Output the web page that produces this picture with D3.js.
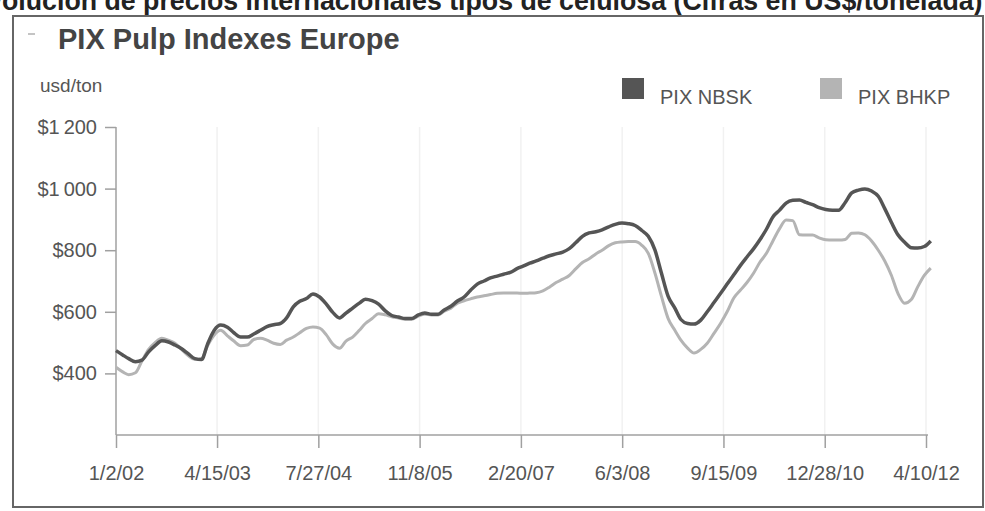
<!DOCTYPE html>
<html>
<head>
<meta charset="utf-8">
<script src="https://cdn.jsdelivr.net/npm/d3@7"></script>
<style>
  body { margin: 0; background: #fff; }
  svg { display: block; font-family: "Liberation Sans", Arial, sans-serif; }
</style>
</head>
<body>
<script>
// Monthly samples, first one on the first axis date
const firstDate = new Date(2002, 0, 2);

const nbskValues = [
  474, 460, 448, 438, 443, 470, 490, 506, 502, 492,
  480, 464, 448, 445, 495, 540, 557, 550, 532, 518,
  518, 528, 540, 552, 558, 562, 580, 616, 634, 643,
  658, 648, 625, 598, 580, 596, 612, 628, 641, 636,
  625, 603, 588, 583, 578, 578, 590, 596, 592, 592,
  606, 618, 635, 648, 670, 690, 700, 710, 716, 722,
  728, 740, 748, 758, 765, 774, 782, 788, 794, 805,
  825, 845, 856, 860, 866, 876, 884, 888, 886, 880,
  864, 845, 800, 725, 650, 612, 575, 562, 560, 573,
  600, 630, 660, 690, 720, 750, 778, 805, 833, 868,
  908, 930, 953, 962, 963, 955, 948, 938, 932, 930,
  930, 955, 986, 995, 999, 992, 975, 935, 890, 850,
  826, 808, 807, 812, 830
];

const bhkpValues = [
  420, 405, 396, 402, 440, 478, 500, 514, 508, 498,
  478, 458, 446, 448, 490, 525, 540, 522, 505, 490,
  492, 510, 514, 508, 498, 494, 508, 518, 532, 546,
  551, 547, 525, 495, 482, 505, 518, 540, 562, 578,
  594, 590, 584, 580, 576, 576, 586, 592, 590, 590,
  602, 612, 628, 636, 642, 648, 652, 656, 660, 661,
  661, 661, 660, 661, 662, 668, 680, 695, 706, 718,
  740, 760, 772, 788, 800, 815, 824, 827, 828, 828,
  816, 790, 725, 650, 578, 540, 508, 482, 466, 478,
  498, 530, 563, 600, 645, 670, 695, 726, 760, 790,
  830, 870, 898, 896, 850, 849, 849, 840, 834, 833,
  833, 835, 855, 856, 850, 830, 800, 765, 718, 660,
  628, 640, 680, 718, 742
];

const seriesNames = ["PIX NBSK", "PIX BHKP"];
const seriesColors = ["#555555", "#b4b4b4"];

const xTickDates = ["2002-01-02", "2003-04-15", "2004-07-27", "2005-11-08",
  "2007-02-20", "2008-06-03", "2009-09-15", "2010-12-28", "2012-04-10"];
const yTickValues = [400, 600, 800, 1000, 1200];

const captionText = "Evolución de precios internacionales tipos de celulosa (Cifras en US$/tonelada)";
const titleText = "PIX Pulp Indexes Europe";
const unitText = "usd/ton";

const width = 985, height = 511;
const parseDay = d3.timeParse("%Y-%m-%d");
const fmtDay = d3.timeFormat("%-m/%-d/%y");

const svg = d3.select("body").append("svg")
  .attr("width", width).attr("height", height);

// Caption cut off at the top edge of the scan
const visiblePart = captionText.slice(2);
const probe = svg.append("text").attr("font-weight", "bold").attr("font-size", 100).text(visiblePart);
const capSize = 100 * 981 / probe.node().getComputedTextLength();
probe.attr("font-size", capSize).text(captionText.slice(0, 2));
const prefixW = probe.node().getComputedTextLength();
probe.remove();
svg.append("text")
  .attr("x", 2 - prefixW).attr("y", 10)
  .attr("font-weight", "bold").attr("font-size", capSize)
  .attr("fill", "#222")
  .text(captionText);

// Panel frame
svg.append("rect")
  .attr("x", 13).attr("y", 16).attr("width", 970).attr("height", 491)
  .attr("fill", "none").attr("stroke", "#666").attr("stroke-width", 2);

// Collapse icon and title
svg.append("rect").attr("x", 28).attr("y", 33).attr("width", 7).attr("height", 2).attr("fill", "#c4c4c4");
svg.append("text")
  .attr("x", 58).attr("y", 49)
  .attr("font-weight", "bold").attr("font-size", 29)
  .attr("fill", "#444")
  .text(titleText);

svg.append("text")
  .attr("x", 40).attr("y", 92)
  .attr("font-size", 19).attr("fill", "#555")
  .text(unitText);

// Scales
const x = d3.scaleTime()
  .domain([parseDay("2002-01-02"), parseDay("2012-04-10")])
  .range([116, 926]);
const y = d3.scaleLinear().domain([200, 1200]).range([435, 127]);

const dates = nbskValues.map((v, i) => d3.timeMonth.offset(firstDate, i));

// Faint vertical grid
svg.append("g").selectAll("line")
  .data(xTickDates.slice(1))
  .join("line")
  .attr("x1", d => x(parseDay(d))).attr("x2", d => x(parseDay(d)))
  .attr("y1", y(1200)).attr("y2", y(200))
  .attr("stroke", "#f1f1f1").attr("stroke-width", 1.5);

// Axes
const xAxis = svg.append("g")
  .attr("transform", `translate(0,${y(200)})`)
  .call(d3.axisBottom(x)
    .tickValues(xTickDates.map(parseDay))
    .tickFormat(fmtDay)
    .tickSize(13).tickPadding(18));
xAxis.select(".domain").attr("d", `M116,0H928`);

const yAxis = svg.append("g")
  .attr("transform", `translate(${x(parseDay("2002-01-02"))},0)`)
  .call(d3.axisLeft(y)
    .tickValues(yTickValues)
    .tickFormat(d => "$" + d3.format(",")(d).replace(",", "\u2009"))
    .tickSize(11).tickPadding(8));
yAxis.select(".domain").attr("d", `M0,${y(1200)}V${y(200)}`);

[xAxis, yAxis].forEach(g => {
  g.selectAll(".domain, .tick line").attr("stroke", "#a0a0a0").attr("stroke-width", 1.5);
  g.selectAll("text").attr("font-size", 20).attr("fill", "#555")
    .attr("font-family", '"Liberation Sans", Arial, sans-serif');
});

// Lines
const line = d3.line()
  .x((d, i) => x(dates[i]))
  .y(d => y(d))
  .curve(d3.curveMonotoneX);

svg.append("path").datum(bhkpValues)
  .attr("d", line).attr("fill", "none")
  .attr("stroke", seriesColors[1]).attr("stroke-width", 3);
svg.append("path").datum(nbskValues)
  .attr("d", line).attr("fill", "none")
  .attr("stroke", seriesColors[0]).attr("stroke-width", 3.5);

// Legend
const legendX = [622, 820];
const legend = svg.append("g").selectAll("g")
  .data(seriesNames)
  .join("g")
  .attr("transform", (d, i) => `translate(${legendX[i]},78)`);
legend.append("rect")
  .attr("width", 22).attr("height", 21)
  .attr("fill", (d, i) => seriesColors[i]);
legend.append("text")
  .attr("x", 38).attr("y", 26)
  .attr("font-size", 20).attr("fill", "#555")
  .text(d => d);
</script>
</body>
</html>
